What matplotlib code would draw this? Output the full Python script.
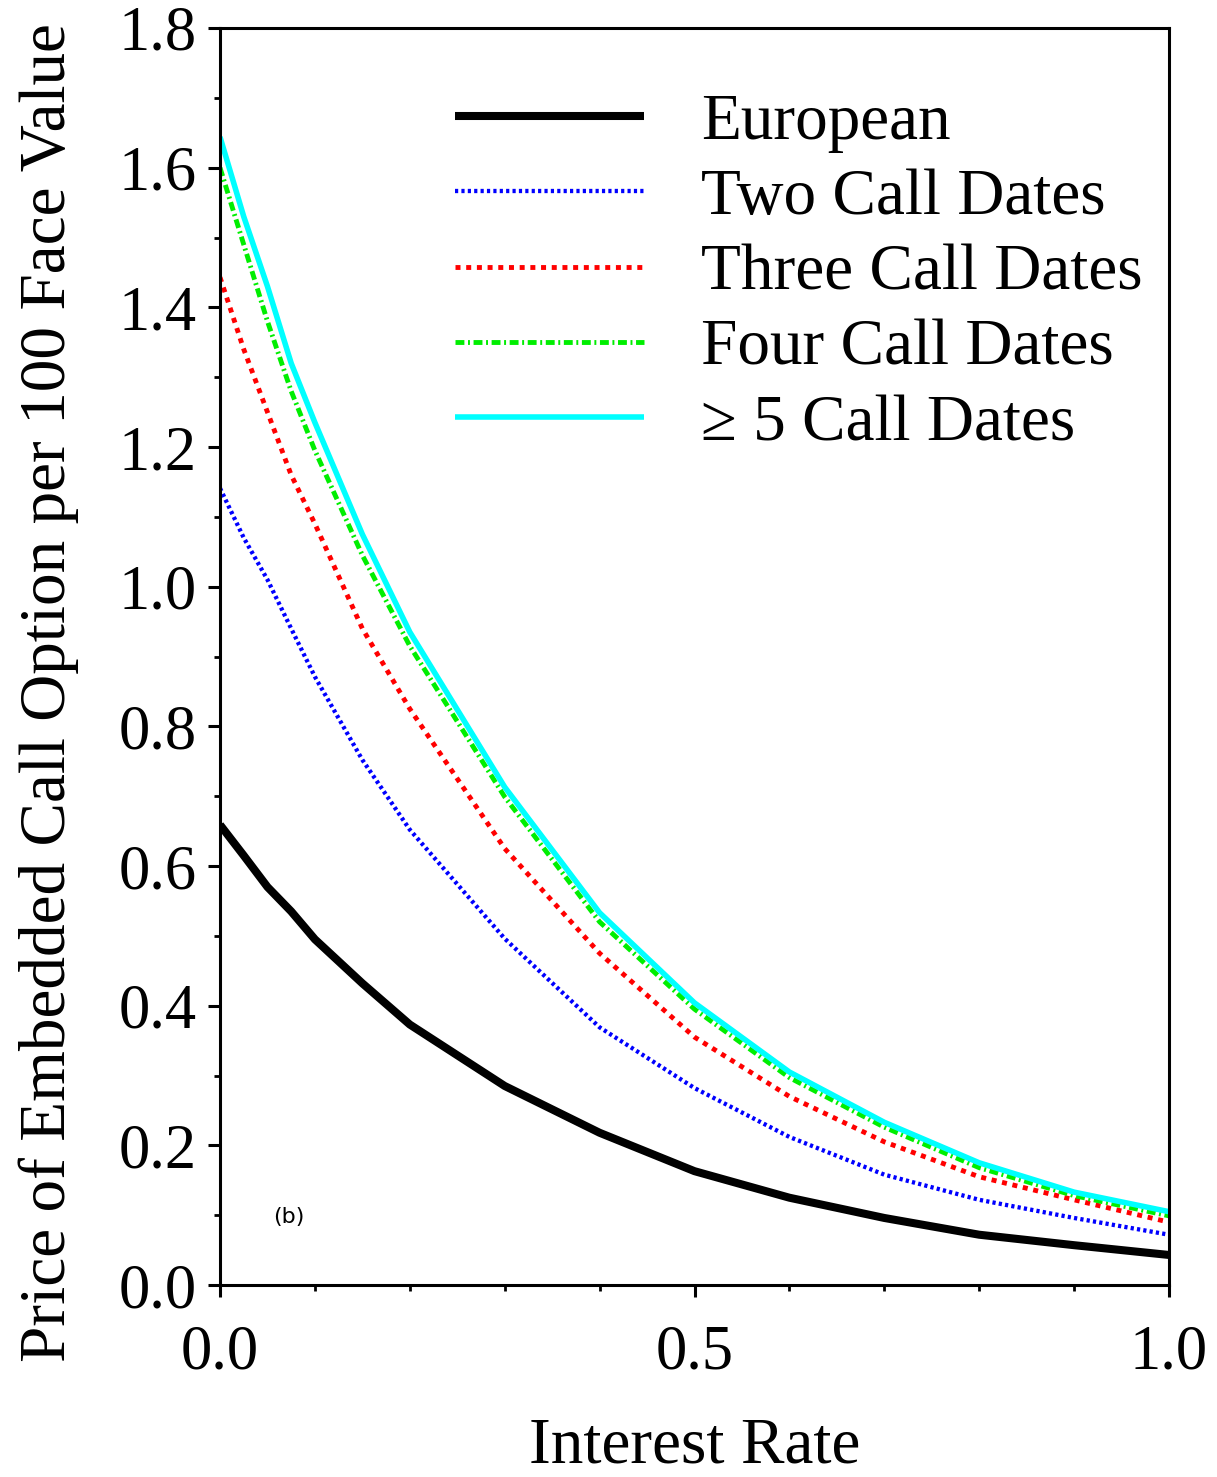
import matplotlib
matplotlib.use("Agg")
import matplotlib.pyplot as plt
from matplotlib.ticker import MultipleLocator, FixedLocator, FormatStrFormatter

plt.rcParams["font.family"] = ["Liberation Serif", "DejaVu Serif"]
plt.rcParams["lines.scale_dashes"] = False

# Interest rate grid (finer near zero where the curves bend most)
rate = [0.0, 0.025, 0.05, 0.075, 0.1, 0.15, 0.2, 0.3, 0.4, 0.5, 0.6, 0.7, 0.8, 0.9, 1.0]

# Embedded call option price per 100 face value
european = [0.659, 0.615, 0.570, 0.535, 0.495, 0.432, 0.373, 0.285, 0.218, 0.163,
            0.125, 0.096, 0.072, 0.057, 0.043]
two_dates = [1.141, 1.070, 1.010, 0.940, 0.871, 0.752, 0.652, 0.496, 0.369, 0.282,
             0.212, 0.158, 0.122, 0.096, 0.072]
three_dates = [1.443, 1.340, 1.250, 1.160, 1.090, 0.940, 0.825, 0.625, 0.475, 0.355,
               0.270, 0.205, 0.155, 0.122, 0.090]
four_dates = [1.600, 1.490, 1.380, 1.280, 1.195, 1.045, 0.915, 0.699, 0.520, 0.395,
              0.297, 0.226, 0.168, 0.128, 0.099]
five_plus = [1.644, 1.530, 1.430, 1.320, 1.235, 1.075, 0.935, 0.713, 0.533, 0.404,
             0.305, 0.233, 0.175, 0.133, 0.105]

labels = ["European", "Two Call Dates", "Three Call Dates", "Four Call Dates",
          "\u2265 5 Call Dates"]

fig = plt.figure(figsize=(12.17, 14.77), dpi=100)
ax = fig.add_axes([220 / 1217, 1 - 1285 / 1477, (1169 - 220) / 1217, (1285 - 28) / 1477])

ax.plot(rate, european, color="black", lw=5.8, solid_capstyle="butt", label=labels[0])
ax.plot(rate, two_dates, color="#0000ff", lw=3.1, dashes=(2.3, 2.3), label=labels[1])
ax.plot(rate, three_dates, color="#ff0000", lw=3.5, dashes=(3.6, 4.1), label=labels[2])
ax.plot(rate, four_dates, color="#00ee00", lw=3.5, dashes=(6.4, 2.6, 1.4, 2.6), label=labels[3])
ax.plot(rate, five_plus, color="#00ffff", lw=4.0, solid_capstyle="butt", label=labels[4])

ax.set_xlim(0, 1.0)
ax.set_ylim(0, 1.8)

ax.xaxis.set_major_locator(FixedLocator([0.0, 0.5, 1.0]))
ax.xaxis.set_minor_locator(MultipleLocator(0.1))
ax.yaxis.set_major_locator(MultipleLocator(0.2))
ax.yaxis.set_minor_locator(MultipleLocator(0.1))
ax.xaxis.set_major_formatter(FormatStrFormatter("%.1f"))
ax.yaxis.set_major_formatter(FormatStrFormatter("%.1f"))

for s in ax.spines.values():
    s.set_linewidth(2.2)
ax.tick_params(which="major", direction="out", length=8.5, width=2.2, labelsize=45)
ax.tick_params(which="minor", direction="out", length=4.0, width=2.0)
ax.tick_params(axis="x", which="major", pad=20)
ax.tick_params(axis="y", which="major", pad=8)

ax.set_xlabel("Interest Rate", fontsize=47)
ax.xaxis.set_label_coords(0.5, -0.105)
ax.set_ylabel("Price of Embedded Call Option per 100 Face Value", fontsize=47)
ax.yaxis.set_label_coords(-0.149, 0.471)

leg = ax.legend(loc="upper left", bbox_to_anchor=(0.2197, 0.969), frameon=False,
                fontsize=47, handlelength=2.9, handletextpad=0.87,
                labelspacing=0.24, borderaxespad=0.0)

ax.text(0.072, 0.097, "(b)", transform=ax.transData, fontsize=16,
        family="DejaVu Sans", ha="center", va="center")

fig.savefig("out.png", dpi=100)
